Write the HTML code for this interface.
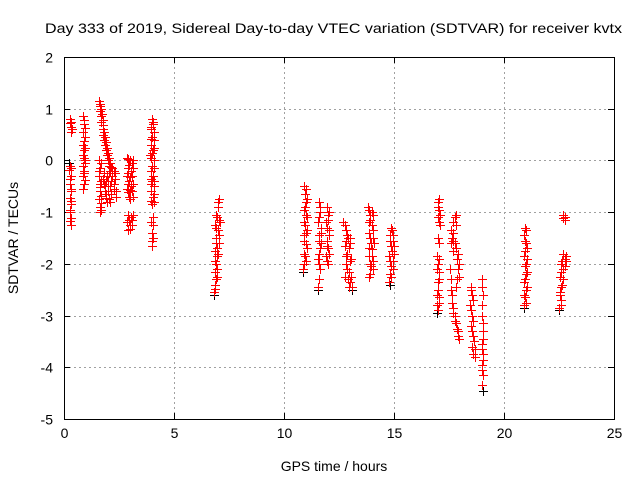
<!DOCTYPE html>
<html><head><meta charset="utf-8"><style>
body{margin:0;background:#fff;font-family:"Liberation Sans",sans-serif}
svg{display:block}
</style></head><body>
<svg id="chart" width="640" height="480" xmlns="http://www.w3.org/2000/svg">
<text x="45" y="33" font-size="14" textLength="577" lengthAdjust="spacingAndGlyphs" font-family="Liberation Sans">Day 333 of 2019, Sidereal Day-to-day VTEC variation (SDTVAR) for receiver kvtx</text>
<text x="334" y="471" font-size="14" text-anchor="middle">GPS time / hours</text>
<text transform="translate(18,238) rotate(-90)" font-size="14" text-anchor="middle">SDTVAR / TECUs</text>
<g id="grid"></g>
<g id="ticks"></g>
<g id="black"></g>
<g id="red"></g>
<rect x="64.5" y="57.5" width="550" height="362" fill="none" stroke="#000"/>
</svg>
<script>
const xTicks=[0,5,10,15,20,25];
const yTicks=[2,1,0,-1,-2,-3,-4,-5];
const redPoints=[
[0.27,0.8],[0.25,0.72],[0.3,0.65],[0.33,0.55],[0.28,-0.1],[0.22,-0.18],[0.3,-0.3],[0.26,-0.45],[0.3,-0.6],[0.25,-0.72],[0.3,-0.85],[0.28,-1.0],[0.32,-1.12],[0.3,-1.25],
[0.85,0.85],[0.92,0.7],[0.88,0.55],[0.95,0.45],[0.85,0.3],[0.92,0.2],[0.88,0.1],[0.95,0],[0.85,-0.1],[0.92,-0.2],[0.88,-0.3],[0.9,-0.45],[0.86,-0.55],
[1.6,1.15],[1.62,1.05],[1.65,0.95],[1.7,0.85],[1.68,0.75],[1.75,0.6],[1.78,0.5],[1.8,0.4],[1.85,0.3],[1.9,0.2],[1.95,0.1],[2.0,0],[2.05,-0.1],[2.1,-0.2],[2.2,-0.3],[2.15,-0.4],[2.3,-0.25],[2.25,-0.55],[2.35,-0.7],[2.2,-0.15],
[1.6,0],[1.65,-0.15],[1.58,-0.3],[1.62,-0.45],[1.65,-0.6],[1.6,-0.75],[1.62,-0.9],[1.65,-1.0],[1.85,-0.5],[1.9,-0.65],[1.95,-0.8],[2.05,-0.75],[1.78,-0.35],[1.95,-0.3],
[2.85,0.05],[3.0,0],[3.1,-0.05],[2.9,-0.15],[3.05,-0.2],[2.85,-0.3],[3.1,-0.3],[2.95,-0.4],[3.05,-0.5],[2.85,-0.55],[3.1,-0.6],[2.95,-0.7],[3.0,-0.75],[2.9,-1.05],[3.05,-1.1],[3.15,-1.05],[2.85,-1.2],[3.0,-1.25],[2.9,-1.35],
[4.0,0.8],[4.05,0.7],[3.95,0.6],[4.1,0.55],[4.0,0.45],[3.95,0.3],[4.05,0.2],[3.9,0.1],[4.1,0],[4.0,-0.1],[3.95,-0.2],[4.05,-0.3],[4.0,-0.4],[4.1,-0.5],[3.95,-0.6],[4.05,-0.7],[4.0,-0.85],[4.05,-1.1],[3.95,-1.2],[4.0,-1.4],[3.98,-1.55],[4.02,-1.65],
[7.05,-0.75],[7.0,-0.9],[6.9,-1.05],[7.05,-1.15],[6.85,-1.25],[7.0,-1.35],[6.9,-1.5],[7.05,-1.6],[6.85,-1.75],[6.95,-1.85],[6.9,-2.0],[6.85,-2.15],[6.95,-2.25],[6.85,-2.4],[6.8,-2.55],
[10.9,-0.5],[10.95,-0.65],[11.0,-0.8],[10.9,-0.95],[11.05,-1.1],[10.95,-1.25],[11.0,-1.4],[10.9,-1.55],[11.05,-1.7],[10.95,-1.85],[10.9,-2.0],[10.85,-2.1],
[11.6,-0.8],[11.65,-1.0],[11.55,-1.2],[11.7,-1.4],[11.6,-1.55],[11.65,-1.7],[11.55,-1.9],[11.65,-2.1],[11.6,-2.3],[11.55,-2.45],[11.95,-0.9],[12.0,-1.05],[11.9,-1.2],[12.05,-1.35],[11.95,-1.55],[12.0,-1.7],[11.9,-1.85],[12.0,-2.0],
[12.7,-1.2],[12.8,-1.35],[12.9,-1.5],[12.75,-1.65],[13.0,-1.6],[12.85,-1.8],[13.05,-1.9],[12.8,-2.0],[12.95,-2.15],[12.75,-2.25],[13.0,-2.35],[13.1,-2.45],
[13.8,-0.9],[13.9,-1.05],[14.0,-1.0],[13.85,-1.2],[14.05,-1.35],[13.9,-1.5],[14.1,-1.6],[13.85,-1.7],[14.0,-1.85],[13.9,-2.0],[14.05,-2.1],[13.85,-2.25],
[14.85,-1.3],[14.95,-1.45],[14.8,-1.55],[15.0,-1.65],[14.9,-1.75],[14.75,-1.85],[14.95,-1.95],[14.85,-2.05],[14.8,-2.2],[14.75,-2.35],
[17.05,-0.75],[17.0,-0.9],[17.1,-1.05],[17.05,-1.2],[17.0,-1.5],[17.05,-1.6],[16.95,-1.85],[17.0,-2.0],[17.05,-2.15],[17.0,-2.35],[16.95,-2.6],[17.05,-2.75],[17.0,-2.9],
[17.8,-1.05],[17.7,-1.2],[17.6,-1.35],[17.65,-1.5],[17.75,-1.6],[17.7,-1.75],[17.85,-1.9],[17.9,-2.1],[17.95,-2.25],[17.8,-2.45],[17.55,-2.1],[17.6,-2.5],[17.65,-2.75],[17.7,-2.95],[17.75,-3.1],[17.85,-3.25],[17.9,-3.4],
[18.5,-2.45],[18.55,-2.6],[18.45,-2.8],[18.55,-3.0],[18.5,-3.2],[18.6,-3.4],[18.55,-3.6],[18.6,-3.75],[18.7,-3.65],[19.0,-2.3],[19.05,-2.6],[19.0,-3.0],[19.05,-3.3],[19.0,-3.55],[19.05,-3.75],[19.0,-3.95],[19.05,-4.15],[19.0,-4.35],
[20.95,-1.3],[20.9,-1.45],[21.0,-1.6],[20.95,-1.75],[21.05,-1.9],[20.95,-2.05],[21.0,-2.2],[20.9,-2.35],[21.0,-2.5],[20.95,-2.65],[20.9,-2.8],
[22.7,-1.05],[22.75,-1.15],[22.7,-1.8],[22.75,-1.9],[22.6,-2.0],[22.7,-2.1],[22.55,-2.25],[22.65,-2.4],[22.55,-2.55],[22.6,-2.7],[22.5,-2.85],[22.8,-1.95]
];
const redPoints2=[
[0.3,0.75],[0.35,0.6],[0.3,-0.15],[0.25,-0.35],[0.33,-0.55],[0.3,-0.78],[0.26,-0.95],[0.28,-1.18],
[0.9,0.78],[0.95,0.62],[0.9,0.38],[0.95,0.25],[0.9,0.05],[0.95,-0.05],[0.9,-0.25],[0.95,-0.38],
[1.65,1.1],[1.7,1.0],[1.72,0.9],[1.75,0.78],[1.78,0.68],[1.82,0.55],[1.85,0.45],[1.9,0.35],[1.95,0.25],[2.0,0.15],[2.05,0.05],[2.1,-0.05],[2.15,-0.12],[2.25,-0.2],[2.3,-0.35],[2.25,-0.45],[2.35,-0.6],[2.15,-0.65],[2.1,-0.5],[2.0,-0.4],[2.05,-0.25],
[1.7,-0.05],[1.6,-0.2],[1.7,-0.4],[1.65,-0.52],[1.7,-0.68],[1.68,-0.82],[1.7,-0.95],[1.8,-0.25],[1.8,-0.45],[1.85,-0.6],[1.9,-0.72],[2.0,-0.6],[2.1,-0.8],[1.9,-0.4],
[2.9,0.02],[3.15,0.0],[2.95,-0.08],[3.15,-0.15],[2.9,-0.25],[3.0,-0.32],[2.9,-0.45],[3.15,-0.45],[3.0,-0.58],[3.15,-0.7],[2.9,-0.62],[3.1,-1.15],[2.95,-1.15],[3.0,-1.32],[3.1,-1.25],
[4.05,0.75],[3.95,0.65],[4.1,0.4],[3.95,0.42],[4.1,0.25],[4.0,0.15],[3.95,0.05],[4.1,-0.15],[3.95,-0.35],[4.1,-0.4],[3.95,-0.45],[4.1,-0.65],[3.95,-0.78],[4.1,-0.8],[4.05,-1.25],[4.05,-1.5],
[7.0,-0.8],[6.95,-1.1],[7.1,-1.2],[6.9,-1.3],[7.05,-1.45],[6.9,-1.6],[6.95,-1.7],[7.0,-1.8],[6.85,-1.95],[6.95,-2.1],[6.9,-2.3],[6.85,-2.48],
[11.0,-0.55],[11.05,-0.75],[10.95,-0.9],[11.0,-1.05],[10.9,-1.2],[11.05,-1.35],[10.9,-1.45],[11.0,-1.62],[10.9,-1.8],[11.0,-1.95],
[11.65,-0.9],[11.6,-1.1],[11.7,-1.3],[11.6,-1.45],[11.7,-1.6],[11.6,-1.8],[11.6,-2.0],[12.05,-1.0],[12.0,-1.15],[11.95,-1.3],[12.05,-1.45],[11.95,-1.65],[12.05,-1.8],[11.95,-1.95],
[12.75,-1.25],[12.85,-1.45],[13.0,-1.5],[12.8,-1.55],[12.95,-1.7],[12.8,-1.85],[13.0,-1.95],[12.85,-2.1],[12.9,-2.3],[13.05,-2.25],[12.95,-2.45],
[13.85,-0.95],[14.05,-1.05],[13.9,-1.15],[14.0,-1.25],[13.85,-1.4],[14.05,-1.5],[13.95,-1.6],[14.0,-1.72],[13.85,-1.85],[14.05,-1.95],[13.95,-2.05],[13.9,-2.2],
[14.9,-1.35],[14.8,-1.45],[14.95,-1.55],[14.85,-1.65],[15.0,-1.8],[14.8,-1.95],[14.95,-2.1],[14.85,-2.25],
[17.0,-0.8],[17.05,-0.95],[17.0,-1.1],[17.1,-1.25],[17.05,-1.9],[16.95,-2.1],[17.05,-2.3],[17.0,-2.5],[17.05,-2.65],[16.95,-2.8],
[17.75,-1.1],[17.8,-1.25],[17.7,-1.4],[17.6,-1.6],[17.7,-1.55],[17.8,-1.7],[17.9,-1.8],[17.95,-2.0],[17.85,-2.3],[17.6,-2.3],[17.65,-2.6],[17.7,-2.85],[17.75,-3.0],[17.8,-3.15],[17.9,-3.3],[17.95,-3.45],
[18.5,-2.5],[18.6,-2.7],[18.5,-2.9],[18.6,-3.1],[18.55,-3.3],[18.65,-3.5],[18.7,-3.8],[19.0,-2.45],[19.0,-2.8],[19.05,-3.15],[19.05,-3.45],[19.0,-3.65],[19.05,-3.85],[19.0,-4.05],
[21.0,-1.35],[20.95,-1.55],[21.05,-1.7],[20.9,-1.85],[21.0,-2.0],[21.05,-2.15],[20.95,-2.3],[21.05,-2.45],[20.9,-2.6],[21.0,-2.75],
[22.75,-1.1],[22.7,-1.12],[22.8,-1.85],[22.65,-1.95],[22.75,-2.05],[22.6,-2.15],[22.7,-2.3],[22.6,-2.45],[22.55,-2.6],[22.6,-2.8]
];
const blackPoints=[[0.22,-0.05],[6.8,-2.6],[10.85,-2.15],[11.55,-2.5],[13.1,-2.5],[14.8,-2.4],[16.95,-2.95],[19.05,-4.45],[20.9,-2.85],[22.5,-2.9]];
const X0=64,X1=614,Y0=419,Y1=57,XMIN=0,XMAX=25,YMIN=-5,YMAX=2;
const xs=t=>X0+(t-XMIN)/(XMAX-XMIN)*(X1-X0);
const ys=v=>Y0-(v-YMIN)/(YMAX-YMIN)*(Y0-Y1);
const NS='http://www.w3.org/2000/svg';
function mk(tag,parent){const e=document.createElementNS(NS,tag);parent.appendChild(e);return e;}
const grid=document.getElementById('grid'),ticks=document.getElementById('ticks');
xTicks.forEach(t=>{const x=Math.round(xs(t))+0.5;
 if(t>XMIN&&t<XMAX){const l=mk('line',grid);
 l.setAttribute('x1',x);l.setAttribute('x2',x);l.setAttribute('y1',Y1);l.setAttribute('y2',Y0);l.setAttribute('stroke','#a0a0a0');l.setAttribute('stroke-dasharray','2,3');}
 const k=mk('path',ticks);
 k.setAttribute('d',`M${x} ${Y0}v-6M${x} ${Y1}v6`);k.setAttribute('stroke','#000');
 const tx=mk('text',ticks);
 tx.setAttribute('x',x);tx.setAttribute('y',Y0+19);tx.setAttribute('font-size','14');tx.setAttribute('text-anchor','middle');tx.textContent=t;});
yTicks.forEach(v=>{const y=Math.round(ys(v))+0.5;
 if(v>YMIN&&v<YMAX){const l=mk('line',grid);
 l.setAttribute('x1',X0);l.setAttribute('x2',X1);l.setAttribute('y1',y);l.setAttribute('y2',y);l.setAttribute('stroke','#a0a0a0');l.setAttribute('stroke-dasharray','2,3');}
 const k=mk('path',ticks);
 k.setAttribute('d',`M${X0} ${y}h6M${X1} ${y}h-6`);k.setAttribute('stroke','#000');
 const tx=mk('text',ticks);
 tx.setAttribute('x',X0-11);tx.setAttribute('y',y+5);tx.setAttribute('font-size','14');tx.setAttribute('text-anchor','end');tx.textContent=v;});
function plus(g,p,col){const x=Math.round(xs(p[0]))+0.5,y=Math.round(ys(p[1]))+0.5;
 const e=mk('path',g);
 
 
 e.setAttribute('d',`M${x-4.5} ${y}h9M${x} ${y-4.5}v9`);e.setAttribute('stroke',col);e.setAttribute('stroke-width','1');}
blackPoints.forEach(p=>plus(document.getElementById('black'),p,'#000'));
redPoints.forEach(p=>plus(document.getElementById('red'),p,'#f00'));
redPoints2.forEach(p=>plus(document.getElementById('red'),p,'#f00'));
</script>
</body></html>
